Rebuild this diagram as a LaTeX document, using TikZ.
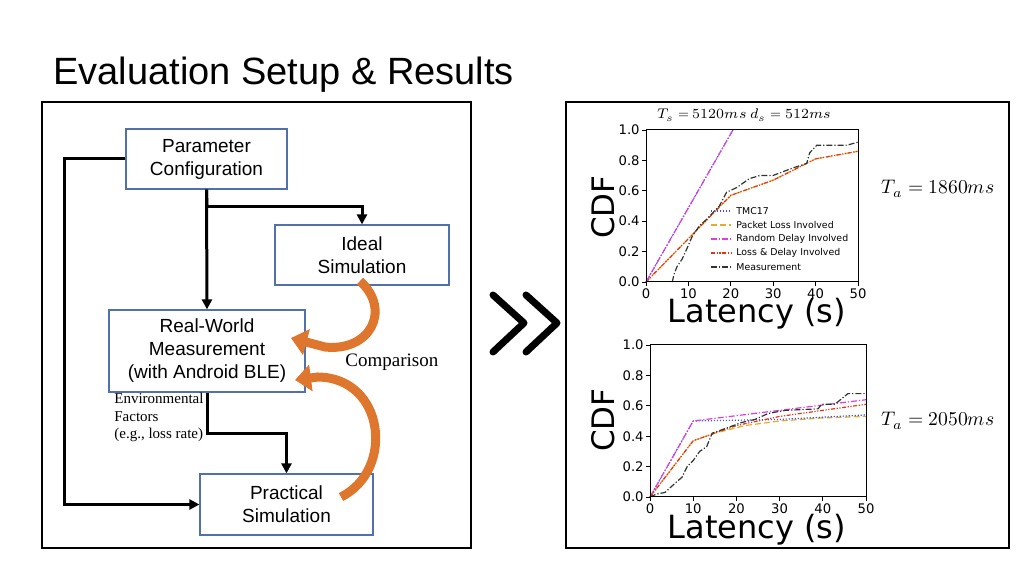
\documentclass[tikz,border=0pt]{standalone}
\usepackage{unicode-math}
\setmainfont{Liberation Sans}
\setmathfont{Latin Modern Math}
\newfontfamily\timesfont{Liberation Serif}
\newfontfamily\plotfont{DejaVu Sans}
\usetikzlibrary{arrows.meta}

\definecolor{boxblue}{RGB}{82,112,170}
\definecolor{cmporange}{RGB}{222,118,46}
\definecolor{tmcblue}{RGB}{60,80,235}
\definecolor{lossgold}{RGB}{228,172,45}
\definecolor{delaymag}{RGB}{225,60,225}
\definecolor{bothred}{RGB}{232,50,25}
\definecolor{measgray}{RGB}{45,55,45}

\begin{document}
\begin{tikzpicture}[x=0.5pt,y=-0.5pt,
    stagebox/.style={draw=boxblue, line width=0.6pt, inner sep=0pt, align=center, font=\fontsize{9.5}{11.5}\selectfont},
    flow/.style={line width=1.5pt, -{Triangle[length=5pt,width=5pt]}},
    cmp/.style={cmporange, line width=4.5pt, -{Triangle[length=8pt,width=13pt]}},
    panel/.style={line width=0.8pt},
    ticklab/.style={font=\plotfont\fontsize{6.6}{7}\selectfont, inner sep=0pt},
    leglab/.style={font=\plotfont\fontsize{4.7}{5}\selectfont, inner sep=0pt, anchor=west},
    axlab/.style={font=\plotfont\fontsize{16}{18}\selectfont, inner sep=0pt},
    cdflab/.style={font=\plotfont\fontsize{15.5}{17}\selectfont, inner sep=0pt, rotate=90},
    tmc/.style={tmcblue, line width=0.6pt, dash pattern=on 0.6pt off 0.9pt},
    pkt/.style={lossgold, line width=0.6pt, dash pattern=on 3pt off 1.5pt},
    rnd/.style={delaymag, line width=0.6pt, dash pattern=on 3pt off 1pt on 0.6pt off 1pt},
    both/.style={bothred, line width=0.6pt, dash pattern=on 2pt off 0.8pt on 0.6pt off 0.8pt on 0.6pt off 0.8pt},
    meas/.style={measgray, line width=0.6pt, dash pattern=on 3pt off 1pt on 0.6pt off 1pt}]
\useasboundingbox (0,0) rectangle (1024,576);

\node[anchor=base west, inner sep=0pt, font=\fontsize{19}{22}\selectfont] (title) at (53,85) {Evaluation Setup \& Results};

\draw[panel] (42,102) rectangle (471,548);
\draw[panel] (566,102) rectangle (1009,548);

\node[stagebox, minimum width=80.5pt, minimum height=30pt] (param) at (206.5,159) {Parameter\\Configuration};
\node[stagebox, minimum width=87pt, minimum height=30pt] (ideal) at (362,255) {Ideal\\Simulation};
\node[stagebox, minimum width=98pt, minimum height=41pt] (real) at (207,351) {Real-World\\Measurement\\(with Android BLE)};
\node[stagebox, minimum width=86.5pt, minimum height=30.5pt] (practical) at (286.5,504.5) {Practical\\Simulation};

\coordinate (split) at (207,207);
\draw[flow] (param.south) -- (real.north);
\draw[line width=1.5pt] (param.south) -- (split);
\draw[flow] (split) -| (ideal.north);
\draw[flow] (param.west) -- ++(-61,0) |- (practical.west);
\draw[flow] (real.south) -- ++(0,41) -| (practical.north);

\node[font=\timesfont\fontsize{7.5}{8.75}\selectfont, align=left, anchor=north west, inner sep=0pt] (envnote) at (114,393) {Environmental\\Factors\\(e.g., loss rate)};
\node[font=\timesfont\fontsize{9.5}{11}\selectfont, anchor=west, inner sep=0pt] (cmplab) at (345,362) {Comparison};

\coordinate (idealtail) at (360,281);
\coordinate (idealhead) at (291,338);
\coordinate (practail) at (341,497);
\coordinate (prachead) at (295,380);
\draw[cmp] (idealtail) .. controls (392,310) and (370,352) .. (325,347) -- (idealhead);
\draw[cmp] (practail) .. controls (395,470) and (385,378) .. (318,377) -- (prachead);

\draw[line width=3.5pt, line cap=round, line join=round] (493,295) -- (524,323) -- (493,352);
\draw[line width=3.5pt, line cap=round, line join=round] (526,295) -- (557,323) -- (526,352);

\begin{scope}[shift={(646,282)}, x=2.12pt, y=76pt]
  \draw[pkt] plot coordinates {(0,0) (20,0.57) (25,0.62) (30,0.67) (35,0.74) (40,0.81) (50,0.86)};
  \draw[both] plot coordinates {(0,0) (20,0.57) (25,0.62) (30,0.67) (35,0.74) (40,0.81) (50,0.86)};
  \draw[tmc] plot coordinates {(0,0) (20.5,1)};
  \draw[rnd] plot coordinates {(0,0) (20.5,1)};
  \draw[meas] plot coordinates {(6.2,0) (6.6,0.05) (7.3,0.1) (8.5,0.15) (9.5,0.21) (10.9,0.3) (12.6,0.37) (14.2,0.41) (17.3,0.5) (19,0.59) (21.3,0.62) (24.4,0.68) (26.8,0.7) (29.9,0.7) (34.6,0.75) (37.9,0.78) (38.6,0.85) (40.3,0.9) (47.4,0.9) (50,0.92)};
  \draw[line width=0.5pt] (0,0) rectangle (50,1);
  \foreach \t in {0,10,...,50} {
    \draw[line width=0.4pt] (\t,0) -- ++(0,-2pt);
    \node[ticklab, anchor=north] (atx\t) at ([yshift=-3pt]\t,0) {\t};
  }
  \foreach \v/\l [count=\i] in {0/0.0,0.2/0.2,0.4/0.4,0.6/0.6,0.8/0.8,1/1.0} {
    \draw[line width=0.4pt] (0,\v) -- ++(-2pt,0);
    \node[ticklab, anchor=east] (aty\i) at ([xshift=-3pt]0,\v) {\l};
  }
\end{scope}

\foreach \s/\l [count=\i] in {tmc/TMC17, pkt/Packet Loss Involved, rnd/Random Delay Involved, both/Loss \& Delay Involved, meas/Measurement} {
  \draw[\s] (711,197+14*\i) -- (731,197+14*\i);
  \node[leglab] (leg\i) at (736,197+14*\i) {\l};
}

\node[font=\fontsize{7}{8}\selectfont, inner sep=0pt] (atitle) at (744,115) {$T_s = 5120ms\ d_s = 512ms$};
\node[cdflab] (acdf) at (603,207) {CDF};
\node[axlab] (alat) at (757,314) {Latency (s)};
\node[font=\fontsize{9.8}{12}\selectfont, inner sep=0pt] (ata) at (938,189) {$T_a = 1860ms$};

\begin{scope}[shift={(650,497)}, x=2.16pt, y=76pt]
  \draw[pkt] plot coordinates {(0,0) (10,0.37) (15,0.42) (22,0.47) (30,0.5) (40,0.52) (50,0.53)};
  \draw[tmc] plot coordinates {(0,0) (10,0.5) (30,0.51) (50,0.54)};
  \draw[rnd] plot coordinates {(0,0) (10,0.5) (50,0.64)};
  \draw[both] plot coordinates {(0,0) (10,0.37) (15,0.42) (20,0.47) (30,0.53) (40,0.57) (50,0.61)};
  \draw[meas] plot coordinates {(0,0) (1.6,0.02) (3.5,0.03) (5,0.07) (7.4,0.13) (8.6,0.2) (10,0.24) (11.5,0.3) (13.1,0.33) (14.4,0.42) (17.4,0.45) (21.2,0.49) (24.3,0.51) (27.4,0.55) (31.3,0.57) (38.9,0.58) (39.7,0.61) (42.8,0.61) (45.8,0.68) (50,0.68)};
  \draw[line width=0.5pt] (0,0) rectangle (50,1);
  \foreach \t in {0,10,...,50} {
    \draw[line width=0.4pt] (\t,0) -- ++(0,-2pt);
    \node[ticklab, anchor=north] (btx\t) at ([yshift=-3pt]\t,0) {\t};
  }
  \foreach \v/\l [count=\i] in {0/0.0,0.2/0.2,0.4/0.4,0.6/0.6,0.8/0.8,1/1.0} {
    \draw[line width=0.4pt] (0,\v) -- ++(-2pt,0);
    \node[ticklab, anchor=east] (bty\i) at ([xshift=-3pt]0,\v) {\l};
  }
\end{scope}

\node[cdflab] (bcdf) at (603,420) {CDF};
\node[axlab] (blat) at (757,530) {Latency (s)};
\node[font=\fontsize{9.8}{12}\selectfont, inner sep=0pt] (bta) at (938,421) {$T_a = 2050ms$};
\end{tikzpicture}
\end{document}
